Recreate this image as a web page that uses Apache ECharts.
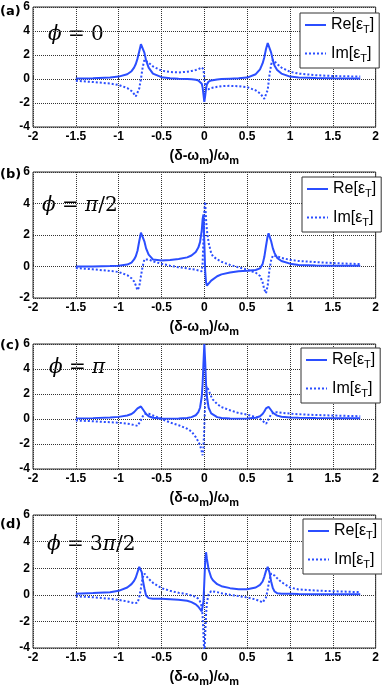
<!DOCTYPE html>
<html>
<head>
<meta charset="utf-8">
<script src="https://cdn.jsdelivr.net/npm/echarts@6.0.0/dist/echarts.min.js"></script>
<style>
html, body { margin: 0; padding: 0; background: #fff; }
#chart { width: 382px; height: 690px; }
</style>
</head>
<body>
<div id="chart"></div>
<script>
// detuning (δ-ω_m)/ω_m, shared by all curves
var xs = [-1.5, -1.3, -1.1, -1.0, -0.9, -0.85, -0.82, -0.8, -0.78, -0.76,
  -0.74, -0.73, -0.72, -0.7, -0.68, -0.65, -0.6, -0.5, -0.4, -0.3,
  -0.2, -0.15, -0.1, -0.07, -0.05, -0.03, -0.02, -0.01, 0, 0.01,
  0.02, 0.03, 0.05, 0.08, 0.1, 0.15, 0.2, 0.3, 0.4, 0.5,
  0.6, 0.65, 0.68, 0.7, 0.72, 0.74, 0.75, 0.76, 0.78, 0.8,
  0.82, 0.85, 0.9, 1.0, 1.1, 1.3, 1.5, 1.82];

// (a) phi = 0
var reA = [0.05, 0.07, 0.13, 0.2, 0.4, 0.65, 0.95, 1.25, 1.7, 2.3,
  2.9, 3.05, 2.85, 2.2, 1.55, 0.95, 0.45, 0.15, 0.06, 0.02,
  -0.01, -0.03, -0.07, -0.12, -0.2, -0.4, -0.7, -1.3, -1.9, -1.4,
  -0.8, -0.45, -0.22, -0.12, -0.08, -0.04, -0.01, 0.03, 0.06, 0.12,
  0.4, 0.8, 1.3, 1.8, 2.5, 3.0, 3.05, 2.9, 2.2, 1.55,
  1.1, 0.75, 0.45, 0.2, 0.12, 0.08, 0.06, 0.05];
var imA = [-0.15, -0.25, -0.38, -0.5, -0.75, -1.0, -1.25, -1.45, -1.35, -0.8,
  0.0, 0.5, 0.95, 1.6, 1.6, 1.35, 1.05, 0.7, 0.58, 0.55,
  0.6, 0.67, 0.75, 0.82, 0.88, 0.97, 1.0, 0.8, 0.1, -0.5,
  -0.85, -0.9, -0.85, -0.75, -0.7, -0.65, -0.6, -0.57, -0.6, -0.68,
  -0.95, -1.2, -1.45, -1.65, -1.6, -0.9, -0.3, 0.3, 1.2, 1.6,
  1.5, 1.25, 0.95, 0.6, 0.45, 0.32, 0.25, 0.2];

// (b) phi = pi/2
var reB = [0.0, 0.0, 0.03, 0.05, 0.12, 0.25, 0.45, 0.65, 1.0, 1.6,
  2.15, 2.2, 2.05, 1.6, 1.15, 0.75, 0.45, 0.38, 0.42, 0.48,
  0.58, 0.7, 0.92, 1.2, 1.55, 2.3, 3.0, 3.3, 1.5, -0.3,
  -1.0, -1.22, -1.1, -0.9, -0.8, -0.62, -0.5, -0.38, -0.3, -0.27,
  -0.22, -0.12, 0.15, 0.6, 1.3, 1.95, 2.1, 2.0, 1.6, 1.15,
  0.85, 0.55, 0.35, 0.18, 0.1, 0.07, 0.05, 0.04];
var imB = [-0.1, -0.18, -0.28, -0.35, -0.55, -0.75, -0.95, -1.2, -1.5, -1.3,
  -0.6, -0.3, 0.0, 0.45, 0.55, 0.45, 0.33, 0.17, 0.05, -0.05,
  -0.12, -0.17, -0.2, -0.25, -0.28, -0.3, 0.2, 1.8, 3.6, 4.1,
  3.0, 2.3, 1.5, 0.85, 0.65, 0.45, 0.3, 0.1, -0.05, -0.2,
  -0.4, -0.6, -1.0, -1.45, -1.7, -1.2, -0.7, -0.2, 0.4, 0.7,
  0.72, 0.65, 0.55, 0.42, 0.35, 0.28, 0.22, 0.15];

// (c) phi = pi
var reC = [0.05, 0.07, 0.12, 0.17, 0.28, 0.4, 0.55, 0.68, 0.85, 0.98,
  1.0, 0.95, 0.85, 0.6, 0.4, 0.22, 0.1, 0.04, 0.03, 0.04,
  0.08, 0.15, 0.3, 0.55, 0.9, 1.8, 2.8, 4.5, 6.0, 4.6,
  2.8, 1.8, 0.9, 0.45, 0.3, 0.15, 0.08, 0.04, 0.03, 0.04,
  0.1, 0.22, 0.4, 0.6, 0.85, 1.0, 0.98, 0.9, 0.7, 0.5,
  0.38, 0.27, 0.18, 0.12, 0.1, 0.08, 0.07, 0.06];
var imC = [-0.12, -0.18, -0.26, -0.3, -0.38, -0.43, -0.48, -0.52, -0.55, -0.4,
  -0.1, 0.1, 0.25, 0.4, 0.45, 0.42, 0.28, 0.0, -0.28, -0.5,
  -0.78, -1.0, -1.45, -1.8, -2.1, -2.6, -2.9, -2.3, -0.5, 1.2,
  2.3, 2.6, 2.3, 1.8, 1.55, 1.2, 0.95, 0.7, 0.48, 0.35,
  0.15, 0.02, -0.15, -0.3, -0.38, -0.2, 0.0, 0.15, 0.38, 0.5,
  0.55, 0.55, 0.5, 0.43, 0.38, 0.32, 0.28, 0.22];

// (d) phi = 3pi/2
var reD = [0.08, 0.13, 0.2, 0.3, 0.55, 0.8, 1.05, 1.3, 1.7, 2.1,
  2.0, 1.7, 1.2, 0.5, -0.05, -0.25, -0.3, -0.3, -0.33, -0.37,
  -0.45, -0.55, -0.72, -0.9, -1.05, -1.25, -1.3, -0.5, 1.0, 2.5,
  3.2, 2.7, 1.9, 1.3, 1.1, 0.8, 0.65, 0.5, 0.42, 0.42,
  0.55, 0.75, 1.0, 1.35, 1.8, 2.1, 2.0, 1.7, 1.0, 0.5,
  0.25, 0.12, 0.08, 0.07, 0.06, 0.05, 0.05, 0.05];
var imD = [-0.12, -0.18, -0.3, -0.38, -0.5, -0.58, -0.64, -0.68, -0.6, -0.2,
  0.5, 0.9, 1.3, 1.6, 1.45, 1.2, 0.9, 0.5, 0.3, 0.15,
  0.05, -0.05, -0.15, -0.3, -0.5, -0.9, -1.6, -3.0, -4.6, -3.0,
  -1.5, -0.6, 0.05, 0.28, 0.27, 0.2, 0.12, 0.0, -0.1, -0.2,
  -0.35, -0.48, -0.58, -0.55, -0.2, 0.4, 0.8, 1.1, 1.6, 1.6,
  1.45, 1.25, 0.95, 0.55, 0.4, 0.32, 0.27, 0.2];

var xTicks = [-2, 2, 0.5];
var panelLabels = ['(a)', '(b)', '(c)', '(d)'];
var phiLabels = ['{i|ϕ} = 0', '{i|ϕ} = {i|π}/2', '{i|ϕ} = {i|π}', '{i|ϕ} = 3{i|π}/2'];
var yMins = [-4, -2, -4, -4];
var reData = [reA, reB, reC, reD];
var imData = [imA, imB, imC, imD];

// layout of the four stacked panels
var layout = [
  { top: 7, height: 120, legendTop: 13, legendLeft: 300, phiLeft: 46, phiTop: 25, labelTop: 5 },
  { top: 172, height: 126, legendTop: 177, legendLeft: 302, phiLeft: 40, phiTop: 196, labelTop: 168 },
  { top: 344, height: 125, legendTop: 348, legendLeft: 301, phiLeft: 47, phiTop: 358, labelTop: 339 },
  { top: 515, height: 133, legendTop: 519, legendLeft: 303, phiLeft: 45, phiTop: 535, labelTop: 518 }
];

var blue = '#2b4eff';
var tickFont = "'Liberation Sans Narrow', 'Liberation Sans', Arial, sans-serif";

function pairs(ys) {
  return xs.map(function (x, k) { return [x, ys[k]]; });
}

var grids = [], xAxes = [], yAxes = [], series = [], legends = [], graphics = [];

layout.forEach(function (p, i) {
  grids.push({
    left: 33, right: 5, top: p.top, height: p.height,
    show: true, borderColor: '#333', borderWidth: 1
  });
  xAxes.push({
    gridIndex: i, type: 'value',
    min: xTicks[0], max: xTicks[1], interval: xTicks[2],
    name: '(δ-ω{s|m})/ω{s|m}', nameLocation: 'middle', nameGap: 19,
    nameTextStyle: {
      fontSize: 14, fontWeight: 'bold', color: '#000', fontFamily: 'Liberation Sans',
      rich: { s: { fontSize: 11, fontWeight: 'bold', color: '#000', fontFamily: 'Liberation Sans', padding: [9, 0, 0, 0] } }
    },
    axisLine: { show: false },
    axisTick: { show: true, inside: true, length: 3, lineStyle: { color: '#333' } },
    axisLabel: { fontSize: 12, fontWeight: 'bold', color: '#000', fontFamily: tickFont, margin: 4 },
    splitLine: { show: true, lineStyle: { type: 'dotted', color: '#333', width: 1 } }
  });
  yAxes.push({
    gridIndex: i, type: 'value',
    min: yMins[i], max: 6, interval: 2,
    axisLine: { show: false },
    axisTick: { show: true, inside: true, length: 3, lineStyle: { color: '#333' } },
    axisLabel: { fontSize: 12, fontWeight: 'bold', color: '#000', fontFamily: tickFont, margin: 3 },
    splitLine: { show: true, lineStyle: { type: 'dotted', color: '#333', width: 1 } }
  });
  series.push({
    name: 'Re', type: 'line', xAxisIndex: i, yAxisIndex: i,
    data: pairs(reData[i]), symbol: 'none', clip: true,
    lineStyle: { color: blue, width: 2 }, itemStyle: { color: blue }
  });
  series.push({
    name: 'Im', type: 'line', xAxisIndex: i, yAxisIndex: i,
    data: pairs(imData[i]), symbol: 'none', clip: true,
    lineStyle: { color: blue, width: 2, type: 'dotted' }, itemStyle: { color: blue }
  });
  legends.push({
    data: ['Re', 'Im'], orient: 'vertical',
    left: p.legendLeft, top: p.legendTop,
    backgroundColor: '#fff', borderColor: '#333', borderWidth: 1,
    padding: [4, 5, 4, 4], itemGap: 10, itemWidth: 21, itemHeight: 14,
    selectedMode: false,
    itemStyle: { opacity: 0 },
    formatter: function (n) { return '{t|' + n + '[ε}{s|T}{t|]}'; },
    textStyle: {
      rich: {
        t: { fontSize: 16, color: '#000', fontFamily: 'Liberation Sans' },
        s: { fontSize: 11, color: '#000', fontFamily: 'Liberation Sans', padding: [10, 0, 0, 0] }
      }
    }
  });
  graphics.push({
    type: 'text', left: 0, top: p.labelTop,
    style: { text: panelLabels[i], fontSize: 13, fontWeight: 'bold', fontFamily: 'DejaVu Sans', fill: '#000' }
  });
  graphics.push({
    type: 'text', left: p.phiLeft, top: p.phiTop,
    style: {
      text: phiLabels[i], fontSize: 20, fontFamily: 'DejaVu Serif', fill: '#000',
      backgroundColor: '#fff', padding: [0, 2, 0, 2],
      rich: { i: { fontSize: 20, fontStyle: 'italic', fontFamily: 'DejaVu Serif', fill: '#000' } }
    }
  });
});

var chart = echarts.init(document.getElementById('chart'));
chart.setOption({
  animation: false,
  backgroundColor: '#fff',
  grid: grids,
  xAxis: xAxes,
  yAxis: yAxes,
  legend: legends,
  series: series,
  graphic: graphics
});
</script>
</body>
</html>
